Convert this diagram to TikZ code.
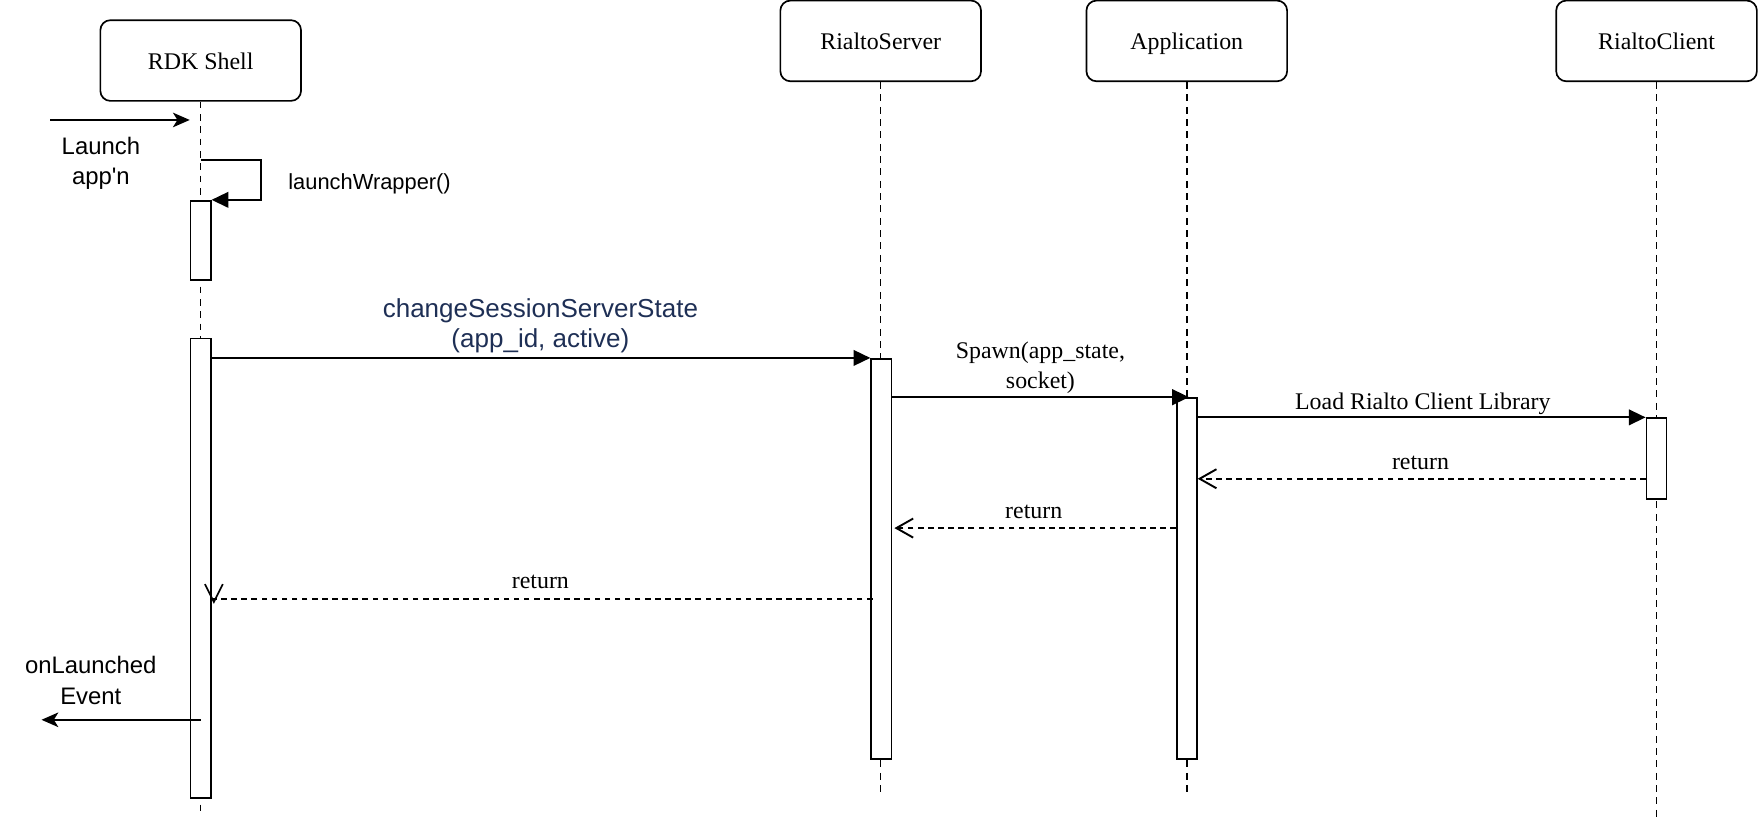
\documentclass[tikz,border=0pt]{standalone}
\usepackage{fontspec}
\setmainfont{Liberation Serif}
\setsansfont{Liberation Sans}
\usetikzlibrary{arrows.meta}
\definecolor{navy}{HTML}{1E2F55}
\tikzstyle{actor}=[draw,rounded corners=9pt,line width=1.5pt,minimum width=179pt,minimum height=72pt,text height=18pt,text depth=2pt,font=\fontsize{21.3}{27}\selectfont]
\tikzstyle{bar}=[draw,fill=white,line width=1.5pt,minimum width=18pt,inner sep=0pt]
\tikzstyle{life}=[line width=1.3pt,dash pattern=on 6pt off 5pt]
\tikzstyle{msg}=[line width=1.7pt,-{Triangle[length=15pt,width=14pt]}]
\tikzstyle{ret}=[line width=1.7pt,dash pattern=on 5pt off 4pt]
\tikzstyle{lbl}=[font=\fontsize{21.3}{27}\selectfont,align=center,inner sep=0pt]
\tikzstyle{slbl}=[font=\sffamily\fontsize{21.3}{27}\selectfont,align=center,inner sep=0pt]

\begin{document}
\begin{tikzpicture}[x=1pt,y=-1pt]
\useasboundingbox (0,0) rectangle (1568,733);
% participants
\node[actor] at (179, 54) (shell) {RDK Shell};
\node[actor] at (785.5, 36.5) (server) {RialtoServer};
\node[actor] at (1058.5, 36.5) (app) {Application};
\node[actor] at (1477.5, 36.5) (client) {RialtoClient};
% message levels
\coordinate (launch) at (0, 107);
\coordinate (loop) at (0, 143);
\coordinate (ret1) at (0, 427);
\coordinate (ret2) at (0, 471);
\coordinate (ret3) at (0, 534);
\coordinate (evt) at (0, 642);
\coordinate (launchin) at (45, 107);
\coordinate (evtout) at (37, 642);
% lifelines
\draw[life] (shell.south) -- (179, 726);
\draw[life] (server.south) -- (785.5, 710);
\draw[life] (app.south) -- (1058.5, 710);
\draw[life] (client.south) -- (1477.5, 730);
% activations
\node[bar, minimum height=71pt] at (179, 214.5) (bar1) {};
\node[bar, minimum height=410pt] at (179, 507) (bar2) {};
\node[bar, minimum height=357pt] at (786, 498.5) (srvbar) {};
\node[bar, minimum height=322pt] at (1058.5, 516) (appbar) {};
\node[bar, minimum height=72pt] at (1477.5, 409) (clibar) {};
% calls
\draw[line width=1.7pt,-{Stealth[length=15pt,width=13pt,inset=4pt]}] (launchin) -- (bar1.west |- launch);
\node[slbl] at (90, 145.5) (launchlbl) {Launch\\app\textquotesingle n};
\draw[msg] (bar1.north |- loop) -- ++(54,0) |- (bar1.north east);
\node[slbl, anchor=west, font=\sffamily\fontsize{19.5}{24}\selectfont] at (257, 164) (wrap) {launchWrapper()};
\draw[msg] (bar2.east |- srvbar.north west) -- (srvbar.north west);
\node[slbl, text=navy, font=\sffamily\fontsize{23.2}{27}\selectfont] at (482, 290.5) (csss) {changeSessionServerState\\(app\_id, active)};
\draw[msg] (srvbar.east |- appbar.north) -- ([xshift=2pt]appbar.north);
\node[lbl] at (928, 328) (spawn) {Spawn(app\_state,\\socket)};
\draw[msg] (appbar.east |- clibar.north) -- (clibar.north west);
\node[lbl] at (1269, 360) (load) {Load Rialto Client Library};
% returns
\draw[ret, -{Straight Barb[length=15pt,width=17pt]}] (clibar.west |- ret1) -- (appbar.east |- ret1);
\node[lbl] at (1267, 413) (r1) {return};
\draw[ret, -{Straight Barb[length=15pt,width=17pt]}] (appbar.west |- ret2) -- ([xshift=2pt]srvbar.east |- ret2);
\node[lbl] at (922, 457) (r2) {return};
\draw[ret] ([xshift=2pt]srvbar.west |- ret3) -- (bar2.east |- ret3);
\draw[line width=1.5pt] (bar2.east |- ret3) ++(-6,-13) -- ++(8,16) -- ++(8,-16);
\node[lbl] at (482, 519) (r3) {return};
% event
\draw[line width=1.7pt,-{Stealth[length=15pt,width=13pt,inset=4pt]}] (bar2.center |- evt) -- (evtout);
\node[slbl] at (81, 607) (evtlbl) {onLaunched\\Event};
\end{tikzpicture}
\end{document}
